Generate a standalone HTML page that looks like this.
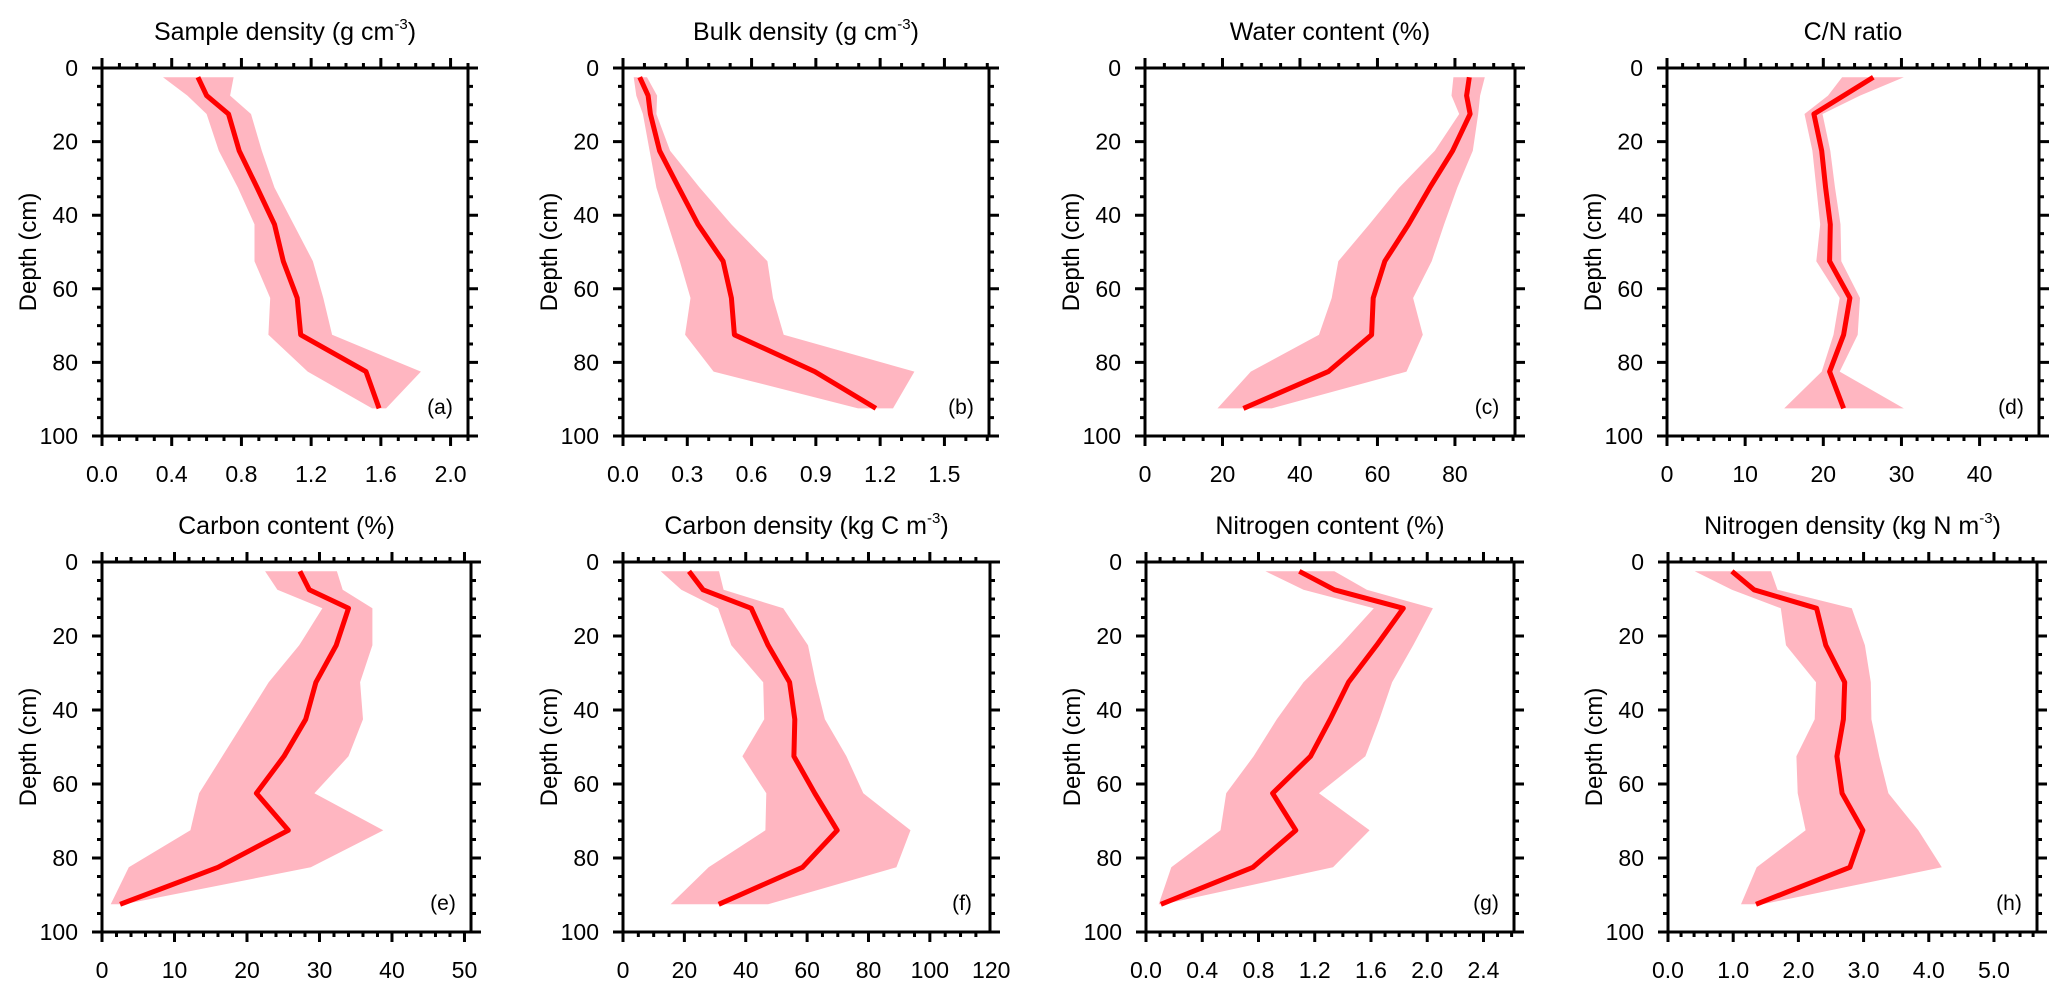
<!DOCTYPE html>
<html><head><meta charset="utf-8"><style>
html,body{margin:0;padding:0;background:#fff;}
svg{display:block;font-family:"Liberation Sans",Arial,sans-serif;}
</style></head><body>
<svg id="fig" width="2067" height="994" viewBox="0 0 2067 994" xmlns="http://www.w3.org/2000/svg"></svg>
<script>
const depths = [2.5, 7.5, 12.5, 22.5, 32.5, 42.5, 52.5, 62.5, 72.5, 82.5, 92.5];

const sampleMean = [0.55,0.60,0.726,0.787,0.89,0.99,1.04,1.12,1.14,1.515,1.59];
const sampleLow  = [0.35,0.49,0.60,0.67,0.78,0.875,0.875,0.965,0.955,1.18,1.55];
const sampleHigh = [0.755,0.735,0.855,0.917,0.99,1.10,1.21,1.27,1.32,1.83,1.63];

const bulkMean = [0.078,0.117,0.128,0.171,0.26,0.35,0.467,0.506,0.52,0.895,1.18];
const bulkLow  = [0.05,0.062,0.093,0.124,0.156,0.21,0.265,0.315,0.29,0.423,1.097];
const bulkHigh = [0.112,0.159,0.156,0.22,0.358,0.506,0.674,0.70,0.75,1.36,1.26];

const waterMean = [83.7,83.0,83.9,79.4,73.5,68.0,61.9,58.9,58.5,47.3,25.4];
const waterLow  = [79.6,79.1,81.1,74.8,65.6,57.9,49.9,48.2,44.9,27.3,18.7];
const waterHigh = [87.7,86.5,86.0,84.6,80.6,77.2,74.0,69.2,71.7,67.5,32.7];

const cnMean = [26.4,22.6,18.8,19.8,20.3,20.9,20.8,23.4,22.6,20.8,22.6];
const cnLow  = [22.4,20.6,17.6,18.6,19.1,19.6,19.1,22.1,21.3,19.8,15.0];
const cnHigh = [30.3,24.7,19.9,20.9,21.5,22.2,22.3,24.7,24.4,22.1,30.3];

const carbonMean = [27.3,28.6,34.0,32.3,29.5,28.1,25.1,21.3,25.7,16.0,2.5];
const carbonLow  = [22.5,24.2,30.4,27.2,23.0,19.8,16.6,13.4,12.2,3.7,1.2];
const carbonHigh = [32.4,33.2,37.3,37.3,35.6,36.0,34.0,29.3,38.8,28.8,3.0];

const cdenMean = [21.5,26.1,41.8,47.3,54.3,56.0,55.7,62.5,69.8,58.5,31.2];
const cdenLow  = [12.3,19.0,31.0,35.3,45.7,46.0,38.9,46.7,46.4,27.9,15.5];
const cdenHigh = [31.3,32.8,52.2,60.3,62.8,65.8,72.8,78.3,93.7,89.1,47.3];

const nitroMean = [1.09,1.34,1.83,1.64,1.44,1.31,1.17,0.90,1.065,0.76,0.106];
const nitroLow  = [0.85,1.12,1.62,1.38,1.12,0.93,0.765,0.57,0.53,0.18,0.09];
const nitroHigh = [1.34,1.57,2.04,1.90,1.75,1.66,1.56,1.23,1.59,1.33,0.125];

const ndenMean = [0.98,1.32,2.28,2.42,2.71,2.69,2.59,2.67,2.99,2.79,1.35];
const ndenLow  = [0.41,0.98,1.73,1.81,2.27,2.25,1.97,1.99,2.11,1.36,1.12];
const ndenHigh = [1.58,1.68,2.82,3.02,3.11,3.12,3.24,3.38,3.84,4.20,1.45];

const tickA = ["0.0","0.4","0.8","1.2","1.6","2.0"];
const tickB = ["0.0","0.3","0.6","0.9","1.2","1.5"];
const tickC = ["0","20","40","60","80"];
const tickD = ["0","10","20","30","40"];
const tickE = ["0","10","20","30","40","50"];
const tickF = ["0","20","40","60","80","100","120"];
const tickG = ["0.0","0.4","0.8","1.2","1.6","2.0","2.4"];
const tickH = ["0.0","1.0","2.0","3.0","4.0","5.0"];
const depthTicks = ["0","20","40","60","80","100"];

const NS = "http://www.w3.org/2000/svg";
const svg = document.getElementById('fig');
function mk(tag, attrs, parent){
  const e = document.createElementNS(NS, tag);
  for (const k in attrs) e.setAttribute(k, attrs[k]);
  (parent||svg).appendChild(e);
  return e;
}

function panel(cfg){
  const g = mk('g', {});
  
  
  const L=cfg.x0, R=cfg.x1, T=cfg.y0, B=cfg.y1;
  const xs = v => L + (v - 0) / cfg.max * (R - L);
  const ys = d => T + d / 100 * (B - T);

  let pts = [];
  for (let i=0;i<depths.length;i++) pts.push(xs(cfg.low[i]).toFixed(1)+','+ys(depths[i]).toFixed(1));
  for (let i=depths.length-1;i>=0;i--) pts.push(xs(cfg.high[i]).toFixed(1)+','+ys(depths[i]).toFixed(1));
  const band = mk('polygon', {points: pts.join(' '), fill:'#ffb6c1', stroke:'none'}, g);
  
  

  const lp = depths.map((d,i)=>xs(cfg.mean[i]).toFixed(1)+','+ys(d).toFixed(1)).join(' ');
  const line = mk('polyline', {points: lp, fill:'none', stroke:'#ff0000', 'stroke-width':5, 'stroke-linejoin':'round'}, g);
  
  

  const frame = mk('rect', {x:L, y:T, width:R-L, height:B-T, fill:'none', stroke:'#000', 'stroke-width':3}, g);
  
  

  let path = '';
  const nMinor = Math.floor(cfg.max / cfg.minor + 1e-6);
  for (let k=0;k<=nMinor;k++){
    const v = k*cfg.minor;
    const isMajor = Math.abs(v/cfg.major - Math.round(v/cfg.major)) < 1e-6;
    const len = isMajor ? 10 : 5;
    const x = xs(v);
    path += `M${x},${T}V${T-len}M${x},${B}V${B+len}`;
  }
  for (let d=0; d<=100; d+=5){
    const len = d%20===0 ? 10 : 5;
    const y = ys(d);
    path += `M${L},${y}H${L-len}M${R},${y}H${R+len}`;
  }
  const ticks = mk('path', {d:path, stroke:'#000', 'stroke-width':3, fill:'none'}, g);
  
  

  cfg.labels.forEach((lab,i)=>{
    const t = mk('text', {x:xs(i*cfg.major), y:B+46, 'font-size':23, 'text-anchor':'middle'}, g);
    t.textContent = lab;
    
    
  });
  depthTicks.forEach((lab,i)=>{
    const t = mk('text', {x:L-24, y:ys(i*20)+8, 'font-size':23, 'text-anchor':'end'}, g);
    t.textContent = lab;
    
    
  });
  const cy = (T+B)/2;
  const yt = mk('text', {x:L-66, y:cy, 'font-size':24, 'text-anchor':'middle', transform:`rotate(-90 ${L-66} ${cy})`}, g);
  yt.textContent = 'Depth (cm)';
  
  
  const tt = mk('text', {x:(L+R)/2, y:T-28, 'font-size':25, 'text-anchor':'middle'}, g);
  
  
  tt.appendChild(document.createTextNode(cfg.title));
  if (cfg.sup){
    const s = mk('tspan', {'font-size':15, dy:-11}, tt);
    s.textContent = cfg.sup;
    const s2 = mk('tspan', {dy:11}, tt);
    s2.textContent = ')';
  }
  const pl = mk('text', {x:R-28, y:B-22, 'font-size':21, 'text-anchor':'middle'}, g);
  pl.textContent = '(' + cfg.id + ')';
  
  
}

panel({id:'a', x0:102, x1:468, y0:68, y1:436, max:2.1, major:0.4, minor:0.1, labels:tickA,
  mean:sampleMean, low:sampleLow, high:sampleHigh, title:'Sample density  (g cm', sup:'-3'});
panel({id:'b', x0:623, x1:989, y0:68, y1:436, max:1.708, major:0.3, minor:0.1, labels:tickB,
  mean:bulkMean, low:bulkLow, high:bulkHigh, title:'Bulk density (g cm', sup:'-3'});
panel({id:'c', x0:1145, x1:1515, y0:68, y1:436, max:95.5, major:20, minor:5, labels:tickC,
  mean:waterMean, low:waterLow, high:waterHigh, title:'Water content (%)'});
panel({id:'d', x0:1667, x1:2039, y0:68, y1:436, max:47.6, major:10, minor:2, labels:tickD,
  mean:cnMean, low:cnLow, high:cnHigh, title:'C/N  ratio'});
panel({id:'e', x0:102, x1:471, y0:562, y1:932, max:50.9, major:10, minor:2, labels:tickE,
  mean:carbonMean, low:carbonLow, high:carbonHigh, title:'Carbon content (%)'});
panel({id:'f', x0:623, x1:990, y0:562, y1:932, max:119.6, major:20, minor:5, labels:tickF,
  mean:cdenMean, low:cdenLow, high:cdenHigh, title:'Carbon density (kg C m', sup:'-3'});
panel({id:'g', x0:1146, x1:1514, y0:562, y1:932, max:2.617, major:0.4, minor:0.1, labels:tickG,
  mean:nitroMean, low:nitroLow, high:nitroHigh, title:'Nitrogen content (%)'});
panel({id:'h', x0:1668, x1:2037, y0:562, y1:932, max:5.66, major:1, minor:0.2, labels:tickH,
  mean:ndenMean, low:ndenLow, high:ndenHigh, title:'Nitrogen density (kg N m', sup:'-3'});
</script>
</body></html>
